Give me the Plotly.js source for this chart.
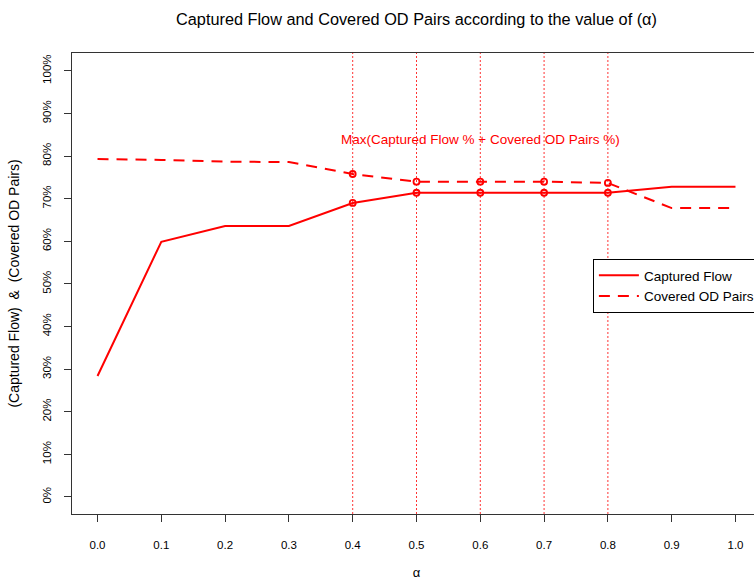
<!DOCTYPE html>
<html>
<head>
<meta charset="utf-8">
<script src="https://cdn.plot.ly/plotly-3.0.1.min.js"></script>
<style>
html,body{margin:0;padding:0;overflow:hidden;background:#fff;}
#chart{width:762px;height:580px;}
</style>
</head>
<body>
<div id="chart"></div>
<script>
// ---- data ----
const alpha = [0.0, 0.1, 0.2, 0.3, 0.4, 0.5, 0.6, 0.7, 0.8, 0.9, 1.0];
const capturedFlow = [0.284, 0.599, 0.636, 0.636, 0.690, 0.714, 0.714, 0.714, 0.714, 0.728, 0.728];
const coveredOD = [0.793, 0.791, 0.787, 0.786, 0.758, 0.740, 0.740, 0.740, 0.737, 0.678, 0.678];
const maxIdx = [4, 5, 6, 7, 8];
const xTickVals = [0.0, 0.1, 0.2, 0.3, 0.4, 0.5, 0.6, 0.7, 0.8, 0.9, 1.0];
const xTickText = ["0.0","0.1","0.2","0.3","0.4","0.5","0.6","0.7","0.8","0.9","1.0"];
const yTickVals = [0, 0.1, 0.2, 0.3, 0.4, 0.5, 0.6, 0.7, 0.8, 0.9, 1.0];
const yTickText = ["0%","10%","20%","30%","40%","50%","60%","70%","80%","90%","100%"];
const seriesNames = ["Captured Flow", "Covered OD Pairs"];
const annText = "Max(Captured Flow % + Covered OD Pairs %)";

const red = "#ff0000";
const font = "Liberation Sans, Arial, sans-serif";

const traces = [
  {x: alpha, y: capturedFlow, name: seriesNames[0], mode: "lines",
   line: {color: red, width: 2}},
  {x: alpha, y: coveredOD, name: seriesNames[1], mode: "lines",
   line: {color: red, width: 2, dash: "11px,8px"}},
  {x: maxIdx.map(i => alpha[i]), y: maxIdx.map(i => capturedFlow[i]), mode: "markers",
   showlegend: false, hoverinfo: "skip",
   marker: {symbol: "circle-open", size: 6, color: red, line: {width: 1.8, color: red}}},
  {x: maxIdx.map(i => alpha[i]), y: maxIdx.map(i => coveredOD[i]), mode: "markers",
   showlegend: false, hoverinfo: "skip",
   marker: {symbol: "circle-open", size: 6, color: red, line: {width: 1.8, color: red}}}
];

const shapes = maxIdx.map(i => ({
  type: "line", xref: "x", yref: "paper", x0: alpha[i], x1: alpha[i], y0: 0, y1: 1,
  line: {color: "rgba(255,0,0,0.8)", width: 1, dash: "2px,2px"}, layer: "below"
}));

const layout = {
  width: 762, height: 580,
  margin: {l: 72, r: 1, t: 53, b: 66},
  paper_bgcolor: "#fff", plot_bgcolor: "#fff",
  font: {family: font, color: "#000", size: 11},
  title: {text: "Captured Flow and Covered OD Pairs according to the value of (α)",
          font: {family: font, size: 16.3, color: "#000"},
          x: (72 + 761) / 2 / 762, xanchor: "center", y: 1 - 19 / 580, yanchor: "middle"},
  showlegend: true,
  legend: {x: 0.756, y: 0.553, xanchor: "left", yanchor: "top",
           bordercolor: "#000", borderwidth: 1, bgcolor: "#fff",
           font: {family: font, size: 13.5, color: "#000"}, itemwidth: 40, tracegroupgap: 0},
  xaxis: {range: [-0.04, 1.04], tickmode: "array", tickvals: xTickVals, ticktext: xTickText,
          ticks: "outside", ticklen: 7, tickcolor: "#333", showgrid: false, zeroline: false,
          showline: true, linecolor: "#333", linewidth: 1, mirror: true,
          ticklabelstandoff: 13, tickfont: {family: font, size: 11.5, color: "#000"},
          title: {text: "α", font: {family: font, size: 13, color: "#000"}, standoff: 20}},
  yaxis: {range: [-0.04, 1.042], tickmode: "array", tickvals: yTickVals, ticktext: yTickText,
          ticks: "outside", ticklen: 7, tickcolor: "#333", showgrid: false, zeroline: false,
          showline: true, linecolor: "#333", linewidth: 1, mirror: true, tickangle: -90,
          ticklabelstandoff: 8, tickfont: {family: font, size: 11.5, color: "#000"},
          title: {text: "(Captured Flow)  &  (Covered OD Pairs)", font: {family: font, size: 14, color: "#000"}, standoff: 18}},
  shapes: shapes,
  annotations: [{x: alpha[maxIdx[2]], y: 0.84, xref: "x", yref: "y", text: annText,
                 showarrow: false, font: {family: font, size: 13.5, color: red}}]
};

Plotly.newPlot("chart", traces, layout, {displayModeBar: false, staticPlot: true});
</script>
</body>
</html>
